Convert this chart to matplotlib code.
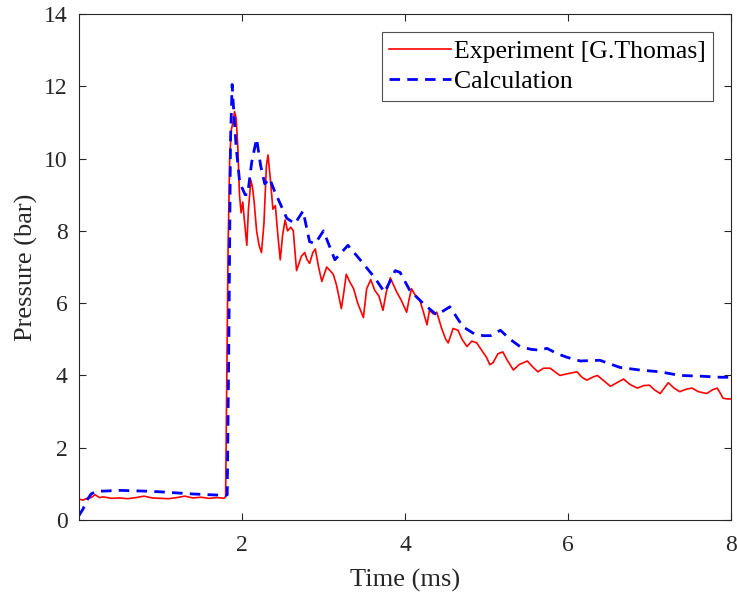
import matplotlib
matplotlib.use("Agg")
import matplotlib.pyplot as plt

exp_t = [0.00, 0.05, 0.10, 0.15, 0.20, 0.25, 0.30, 0.40, 0.50, 0.60, 0.70, 0.80, 0.90, 1.00, 1.10,
         1.20, 1.30, 1.40, 1.50, 1.60, 1.70, 1.78, 1.80, 1.81, 1.83, 1.85, 1.87, 1.89, 1.91, 1.93,
         1.95, 1.97, 1.99, 2.01, 2.03, 2.06, 2.08, 2.11, 2.13, 2.15, 2.18, 2.21, 2.24, 2.27, 2.30,
         2.32, 2.35, 2.38, 2.41, 2.44, 2.47, 2.50, 2.53, 2.56, 2.60, 2.63, 2.67, 2.70, 2.73, 2.77,
         2.80, 2.83, 2.87, 2.90, 2.94, 2.98, 3.01, 3.04, 3.08, 3.12, 3.16, 3.22, 3.25, 3.28, 3.32,
         3.37, 3.42, 3.49, 3.53, 3.58, 3.63, 3.68, 3.73, 3.77, 3.82, 3.86, 3.90, 3.95, 4.02, 4.05,
         4.08, 4.13, 4.18, 4.22, 4.27, 4.30, 4.35, 4.39, 4.45, 4.50, 4.53, 4.56, 4.59, 4.65, 4.70,
         4.76, 4.82, 4.88, 4.94, 5.00, 5.04, 5.08, 5.14, 5.20, 5.26, 5.33, 5.40, 5.50, 5.56, 5.63,
         5.70, 5.78, 5.84, 5.90, 6.00, 6.11, 6.17, 6.23, 6.30, 6.36, 6.44, 6.52, 6.60, 6.68, 6.76,
         6.85, 6.93, 7.00, 7.06, 7.13, 7.18, 7.23, 7.30, 7.37, 7.45, 7.52, 7.60, 7.70, 7.77, 7.83,
         7.87, 7.90, 7.95, 8.00]
exp_p = [0.58, 0.55, 0.60, 0.62, 0.70, 0.62, 0.64, 0.60, 0.61, 0.59, 0.62, 0.66, 0.61, 0.60, 0.59,
         0.62, 0.66, 0.61, 0.63, 0.60, 0.62, 0.60, 0.65, 3.0, 7.5, 10.0, 10.8, 11.0, 11.3, 11.1,
         10.3, 9.0, 8.5, 8.8, 8.3, 7.6, 8.6, 9.4, 9.2, 8.8, 8.0, 7.6, 7.4, 8.2, 9.8,
         10.1, 9.4, 8.6, 8.7, 7.9, 7.2, 7.9, 8.3, 8.0, 8.1, 8.0, 6.9, 7.1, 7.3, 7.4,
         7.2, 7.1, 7.4, 7.5, 7.0, 6.6, 6.8, 7.0, 6.9, 6.8, 6.5, 5.85, 6.3, 6.8, 6.6,
         6.4, 6.0, 5.6, 6.4, 6.65, 6.35, 6.2, 5.8, 6.3, 6.7, 6.5, 6.3, 6.1, 5.75, 6.1,
         6.4, 6.2, 6.1, 5.8, 5.4, 5.8, 5.7, 5.75, 5.3, 5.0, 4.9, 5.1, 5.3, 5.25, 5.0,
         4.8, 4.95, 4.9, 4.7, 4.5, 4.3, 4.35, 4.6, 4.65, 4.4, 4.15, 4.3, 4.4, 4.25, 4.1,
         4.2, 4.2, 4.1, 4.0, 4.05, 4.1, 3.95, 3.87, 3.95, 4.0, 3.85, 3.7, 3.8, 3.9, 3.75,
         3.65, 3.72, 3.73, 3.6, 3.5, 3.65, 3.8, 3.65, 3.55, 3.62, 3.65, 3.55, 3.5, 3.6, 3.65,
         3.5, 3.37, 3.35, 3.35]

calc_t = [0.00, 0.05, 0.10, 0.15, 0.22, 0.30, 0.50, 0.80, 1.00, 1.20, 1.40, 1.60, 1.80, 1.82, 1.84,
          1.86, 1.88, 1.90, 1.93, 1.97, 2.00, 2.04, 2.07, 2.12, 2.18, 2.23, 2.28, 2.34, 2.40, 2.47,
          2.55, 2.65, 2.75, 2.83, 2.90, 3.00, 3.07, 3.14, 3.22, 3.30, 3.45, 3.63, 3.75, 3.88, 3.94,
          4.06, 4.22, 4.39, 4.55, 4.71, 4.85, 4.96, 5.05, 5.17, 5.29, 5.41, 5.55, 5.66, 5.74, 5.87,
          5.99, 6.15, 6.39, 6.64, 6.88, 7.13, 7.37, 7.62, 7.87, 8.00]
calc_p = [0.12, 0.30, 0.55, 0.72, 0.80, 0.80, 0.82, 0.80, 0.78, 0.75, 0.72, 0.70, 0.68, 0.70, 5.0,
          10.5, 12.05, 11.3, 10.3, 9.4, 9.2, 9.0, 9.0, 9.9, 10.55, 9.8, 9.3, 9.45, 9.1, 8.75,
          8.35, 8.2, 8.55, 7.7, 7.65, 8.0, 7.6, 7.2, 7.4, 7.6, 7.2, 6.7, 6.3, 6.9, 6.85,
          6.35, 6.0, 5.67, 5.9, 5.35, 5.15, 5.1, 5.1, 5.25, 5.0, 4.8, 4.72, 4.7, 4.75, 4.6,
          4.5, 4.4, 4.42, 4.22, 4.15, 4.1, 4.0, 3.98, 3.95, 3.95]

x_ticks = [2, 4, 6, 8]
y_ticks = [0, 2, 4, 6, 8, 10, 12, 14]

plt.rcParams['font.family'] = ['Liberation Serif', 'DejaVu Serif']
fig = plt.figure(figsize=(7.37, 5.96), dpi=100)
ax = fig.add_axes([0.107, 0.1275, 0.885, 0.849])

ax.plot(exp_t, exp_p, color='#ff0000', lw=1.2, label='Experiment [G.Thomas]')
ax.plot(calc_t, calc_p, color='#0000ff', lw=2.0, ls=(0, (3.8, 2.6)), label='Calculation')

ax.set_xlim(0, 8)
ax.set_ylim(0, 14)
ax.set_xticks(x_ticks)
ax.set_yticks(y_ticks)
ax.tick_params(direction='in', top=True, right=True, length=5, width=0.8,
               labelsize=17, colors='#262626')
ax.tick_params(axis='x', pad=11)
ax.tick_params(axis='y', pad=8)
for s in ax.spines.values():
    s.set_color('#262626')
    s.set_linewidth(0.8)
ax.set_xlabel('Time (ms)', fontsize=19, color='#262626', labelpad=9)
ax.set_ylabel('Pressure (bar)', fontsize=19, color='#262626', labelpad=4)

leg = ax.legend(loc='upper right', fontsize=18.5, frameon=True, fancybox=False,
                edgecolor='#262626', handlelength=2.4, handletextpad=0.1,
                borderpad=0.3, labelspacing=0.3, borderaxespad=0.7)
leg.get_frame().set_linewidth(0.8)

fig.savefig('out.png', dpi=100)
